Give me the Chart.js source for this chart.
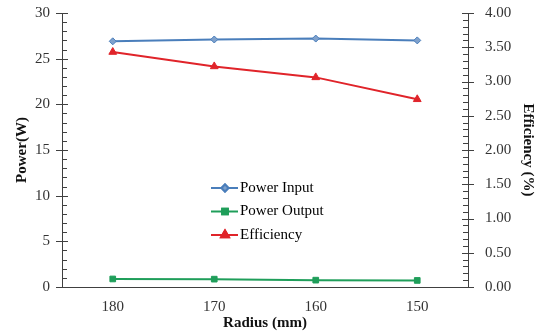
<!DOCTYPE html>
<html>
<head>
<meta charset="utf-8">
<script src="https://cdn.jsdelivr.net/npm/chart.js@4/dist/chart.umd.min.js"></script>
<style>
  html, body { margin: 0; padding: 0; background: #fff; }
  #wrap { width: 538px; height: 335px; position: relative; }
</style>
</head>
<body>
<div id="wrap"><canvas id="powerChart"></canvas></div>
<script>
const radii = ['180', '170', '160', '150'];
const powerInput = [26.9, 27.1, 27.2, 27.0];
const powerOutput = [0.88, 0.86, 0.75, 0.72];
const efficiency = [3.43, 3.22, 3.06, 2.74];

const serif = "'Liberation Serif', 'Times New Roman', serif";
const axisColor = '#404040';

// tick marks: majors cross the axis line, minors sit inside the plot
const axisTicks = {
    id: 'axisTicks',
    afterDraw(chart) {
        const ctx = chart.ctx;
        const yl = chart.scales.y;
        const yr = chart.scales.y1;
        ctx.save();
        ctx.strokeStyle = axisColor;
        ctx.lineWidth = 1;
        ctx.beginPath();
        for (let v = 0; v <= 30; v++) {
            const py = Math.round(yl.getPixelForValue(v)) + 0.5;
            const x = yl.right;
            if (v % 5 === 0) { ctx.moveTo(x - 6, py); ctx.lineTo(x + 6, py); }
            else { ctx.moveTo(x, py); ctx.lineTo(x + 5, py); }
        }
        for (let i = 0; i <= 40; i++) {
            const py = Math.round(yr.getPixelForValue(i * 0.1)) + 0.5;
            const x = yr.left;
            if (i % 5 === 0) { ctx.moveTo(x - 6, py); ctx.lineTo(x + 6, py); }
            else { ctx.moveTo(x - 5, py); ctx.lineTo(x, py); }
        }
        ctx.stroke();
        ctx.restore();
    }
};

// legend drawn inside the plot area
const innerLegend = {
    id: 'innerLegend',
    afterDraw(chart, args, opts) {
        const ctx = chart.ctx;
        ctx.save();
        ctx.font = '15px ' + serif;
        ctx.textBaseline = 'middle';
        chart.data.datasets.forEach((ds, i) => {
            const y = opts.y + i * opts.rowGap;
            ctx.strokeStyle = ds.borderColor;
            ctx.lineWidth = 2;
            ctx.beginPath();
            ctx.moveTo(opts.x, y);
            ctx.lineTo(opts.x + 27, y);
            ctx.stroke();
            Chart.helpers.drawPoint(ctx, {
                pointStyle: ds.pointStyle,
                radius: ds.pointRadius,
                rotation: 0,
                borderWidth: 1
            }, opts.x + 14, y);
            ctx.fillStyle = ds.pointBackgroundColor;
            ctx.strokeStyle = ds.pointBorderColor;
            ctx.fill();
            ctx.stroke();
            ctx.fillStyle = '#000';
            ctx.fillText(ds.label, opts.x + 29, y);
        });
        ctx.restore();
    }
};

function fitVertical(width) {
    return scale => {
        scale.width = width;
        scale.paddingTop = 0;
        scale.paddingBottom = 0;
    };
}

const ctx = document.getElementById('powerChart').getContext('2d');
const myChart = new Chart(ctx, {
    type: 'line',
    data: {
        labels: radii,
        datasets: [{
            label: 'Power Input',
            data: powerInput,
            yAxisID: 'y',
            borderColor: '#4a7ebb',
            borderWidth: 2,
            pointStyle: 'rectRot',
            pointRadius: 3.5,
            pointBackgroundColor: '#7fa1cc',
            pointBorderColor: '#4a7ebb',
            pointBorderWidth: 1
        }, {
            label: 'Power Output',
            data: powerOutput,
            yAxisID: 'y',
            borderColor: '#1f9e5a',
            borderWidth: 2,
            pointStyle: 'rect',
            pointRadius: 4,
            pointBackgroundColor: '#1f9e5a',
            pointBorderColor: '#1f9e5a',
            pointBorderWidth: 1
        }, {
            label: 'Efficiency',
            data: efficiency,
            yAxisID: 'y1',
            borderColor: '#e0242a',
            borderWidth: 2,
            pointStyle: 'triangle',
            pointRadius: 4.5,
            pointBackgroundColor: '#e0242a',
            pointBorderColor: '#e0242a',
            pointBorderWidth: 1
        }]
    },
    options: {
        responsive: true,
        maintainAspectRatio: false,
        animation: false,
        layout: { padding: { top: 13, left: 0, right: 0, bottom: 0 } },
        plugins: {
            legend: { display: false },
            tooltip: { enabled: false },
            innerLegend: { x: 211, y: 188, rowGap: 23.5 }
        },
        scales: {
            x: {
                offset: true,
                grid: { display: false, drawTicks: false },
                border: { display: true, color: axisColor },
                ticks: { font: { family: serif, size: 15 }, color: '#333', padding: 11 },
                title: {
                    display: true,
                    text: 'Radius (mm)',
                    font: { family: serif, size: 15, weight: 'bold' },
                    color: '#111',
                    padding: { top: 0, bottom: 3 }
                },
                afterFit(scale) { scale.height = 48; }
            },
            y: {
                position: 'left',
                min: 0,
                max: 30,
                grid: { display: false, drawTicks: false },
                border: { display: true, color: axisColor },
                ticks: { stepSize: 5, font: { family: serif, size: 15 }, color: '#333', padding: 12 },
                title: {
                    display: true,
                    text: 'Power(W)',
                    font: { family: serif, size: 15, weight: 'bold' },
                    color: '#111',
                    padding: { top: 13, bottom: 0 }
                },
                afterFit: fitVertical(62)
            },
            y1: {
                position: 'right',
                min: 0,
                max: 4,
                grid: { display: false, drawTicks: false },
                border: { display: true, color: axisColor },
                ticks: {
                    stepSize: 0.5,
                    font: { family: serif, size: 15 },
                    color: '#333',
                    padding: 17,
                    callback: v => Number(v).toFixed(2)
                },
                title: {
                    display: true,
                    text: 'Efficiency (%)',
                    font: { family: serif, size: 15, weight: 'bold' },
                    color: '#111',
                    padding: { top: 1, bottom: 0 }
                },
                afterFit: fitVertical(70)
            }
        }
    },
    plugins: [axisTicks, innerLegend]
});
</script>
</body>
</html>
